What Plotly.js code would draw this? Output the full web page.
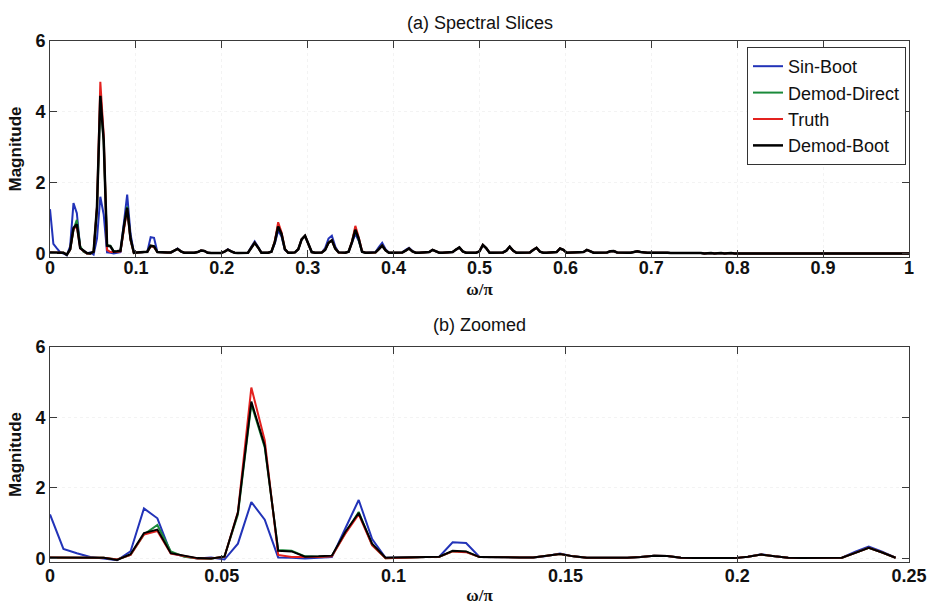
<!DOCTYPE html>
<html><head><meta charset="utf-8">
<script src="https://cdn.plot.ly/plotly-3.0.1.min.js"></script>
<style>html,body{margin:0;padding:0;background:#fff}</style>
</head><body><div id="chart" style="width:930px;height:605px"></div>
<script>
// Spectral magnitude on 257 frequency bins (omega/pi = bin/256)
const NBINS = 256;
const ZOOM_N = 64; // bins shown in panel (b)

const seriesNames = ['Sin-Boot', 'Demod-Direct', 'Truth', 'Demod-Boot'];

const sinBoot = [
 1.25,0.27,0.15,0.04,0.00,-0.05,0.20,1.42,1.14,0.15,
 0.06,0.00,0.03,-0.03,0.42,1.60,1.10,0.03,0.02,0.00,
 0.02,0.04,0.85,1.66,0.55,0.02,0.03,0.03,0.04,0.05,
 0.46,0.44,0.04,0.03,0.03,0.03,0.03,0.07,0.14,0.06,
 0.02,0.02,0.01,0.02,0.04,0.08,0.07,0.02,0.01,0.01,
 0.01,0.01,0.05,0.12,0.06,0.02,0.01,0.01,0.01,0.02,
 0.19,0.34,0.19,0.02,0.02,0.02,0.05,0.28,0.65,0.48,
 0.10,0.02,0.02,0.03,0.12,0.40,0.50,0.28,0.04,0.02,
 0.02,0.03,0.15,0.42,0.50,0.20,0.03,0.02,0.02,0.05,
 0.28,0.55,0.36,0.05,0.02,0.02,0.02,0.04,0.18,0.30,
 0.12,0.02,0.02,0.02,0.02,0.03,0.10,0.16,0.07,0.02,
 0.02,0.02,0.02,0.04,0.10,0.07,0.02,0.02,0.02,0.02,
 0.04,0.11,0.17,0.06,0.02,0.02,0.02,0.02,0.06,0.24,
 0.15,0.02,0.02,0.02,0.02,0.03,0.08,0.19,0.08,0.02,
 0.02,0.02,0.02,0.03,0.10,0.16,0.05,0.02,0.02,0.02,
 0.02,0.04,0.14,0.10,0.02,0.02,0.02,0.02,0.02,0.04,
 0.10,0.06,0.02,0.02,0.02,0.02,0.03,0.06,0.07,0.03,
 0.02,0.02,0.02,0.02,0.03,0.06,0.04,0.02,0.02,0.02,
 0.03,0.02,0.02,0.03,0.02,0.01,0.01,0.02,0.01,0.01,
 0.02,0.03,0.02,0.01,0.01,0.00,0.01,0.01,0.00,0.01,
 0.01,0.00,0.01,0.01,0.00,0.00,0.01,0.00,0.00,0.01,
 0.00,0.00,0.01,0.00,0.00,0.00,0.00,0.01,0.00,0.00,
 0.00,0.01,0.00,0.00,0.00,0.00,0.01,0.00,0.00,0.00,
 0.01,0.00,0.00,0.00,0.01,0.02,0.01,0.00,0.01,0.02,
 0.01,0.00,0.01,0.00,0.00,0.01,0.02,0.01,0.00,0.00,
 0.01,0.00,0.00,0.01,0.00,0.00,0.00
];

const demodDirect = [
 0.02,0.02,0.03,0.03,0.02,-0.03,0.10,0.68,0.95,0.20,
 0.05,0.00,-0.01,0.06,1.25,4.38,3.15,0.24,0.22,0.06,
 0.05,0.07,0.72,1.32,0.38,0.01,0.03,0.03,0.04,0.05,
 0.20,0.19,0.04,0.03,0.03,0.03,0.03,0.07,0.13,0.06,
 0.02,0.02,0.01,0.02,0.04,0.08,0.07,0.02,0.01,0.01,
 0.01,0.01,0.05,0.11,0.06,0.02,0.01,0.01,0.01,0.02,
 0.16,0.30,0.17,0.02,0.02,0.02,0.05,0.34,0.80,0.55,
 0.12,0.02,0.02,0.03,0.12,0.40,0.50,0.28,0.04,0.02,
 0.02,0.03,0.10,0.30,0.37,0.14,0.03,0.02,0.02,0.05,
 0.33,0.72,0.42,0.05,0.02,0.02,0.02,0.03,0.12,0.22,
 0.09,0.02,0.02,0.02,0.02,0.03,0.08,0.14,0.06,0.02,
 0.02,0.02,0.02,0.04,0.10,0.07,0.02,0.02,0.02,0.02,
 0.04,0.11,0.17,0.06,0.02,0.02,0.02,0.02,0.06,0.24,
 0.15,0.02,0.02,0.02,0.02,0.03,0.08,0.19,0.08,0.02,
 0.02,0.02,0.02,0.03,0.10,0.16,0.05,0.02,0.02,0.02,
 0.02,0.04,0.14,0.10,0.02,0.02,0.02,0.02,0.02,0.04,
 0.10,0.06,0.02,0.02,0.02,0.02,0.03,0.06,0.07,0.03,
 0.02,0.02,0.02,0.02,0.03,0.06,0.04,0.02,0.02,0.02,
 0.03,0.02,0.02,0.03,0.02,0.01,0.01,0.02,0.01,0.01,
 0.02,0.03,0.02,0.01,0.01,0.00,0.01,0.01,0.00,0.01,
 0.01,0.00,0.01,0.01,0.00,0.00,0.01,0.00,0.00,0.01,
 0.00,0.00,0.01,0.00,0.00,0.00,0.00,0.01,0.00,0.00,
 0.00,0.01,0.00,0.00,0.00,0.00,0.01,0.00,0.00,0.00,
 0.01,0.00,0.00,0.00,0.01,0.02,0.01,0.00,0.01,0.02,
 0.01,0.00,0.01,0.00,0.00,0.01,0.02,0.01,0.00,0.00,
 0.01,0.00,0.00,0.01,0.00,0.00,0.00
];

const truth = [
 0.03,0.03,0.04,0.03,0.02,-0.03,0.10,0.68,0.78,0.14,
 0.06,0.00,0.00,0.05,1.32,4.85,3.35,0.10,0.04,0.03,
 0.04,0.06,0.70,1.25,0.38,0.01,0.03,0.03,0.04,0.05,
 0.20,0.18,0.04,0.03,0.03,0.03,0.03,0.07,0.13,0.06,
 0.02,0.02,0.01,0.02,0.04,0.08,0.07,0.02,0.01,0.01,
 0.01,0.01,0.05,0.11,0.06,0.02,0.01,0.01,0.01,0.02,
 0.16,0.30,0.17,0.02,0.02,0.02,0.05,0.35,0.88,0.60,
 0.12,0.02,0.02,0.03,0.12,0.40,0.50,0.28,0.04,0.02,
 0.02,0.03,0.10,0.30,0.37,0.14,0.03,0.02,0.02,0.05,
 0.34,0.78,0.46,0.06,0.02,0.02,0.02,0.03,0.12,0.22,
 0.09,0.02,0.02,0.02,0.02,0.03,0.08,0.14,0.06,0.02,
 0.02,0.02,0.02,0.04,0.10,0.07,0.02,0.02,0.02,0.02,
 0.04,0.11,0.17,0.06,0.02,0.02,0.02,0.02,0.06,0.24,
 0.15,0.02,0.02,0.02,0.02,0.03,0.08,0.19,0.08,0.02,
 0.02,0.02,0.02,0.03,0.10,0.16,0.05,0.02,0.02,0.02,
 0.02,0.04,0.14,0.10,0.02,0.02,0.02,0.02,0.02,0.04,
 0.10,0.06,0.02,0.02,0.02,0.02,0.03,0.06,0.07,0.03,
 0.02,0.02,0.02,0.02,0.03,0.06,0.04,0.02,0.02,0.02,
 0.03,0.02,0.02,0.03,0.02,0.01,0.01,0.02,0.01,0.01,
 0.02,0.03,0.02,0.01,0.01,0.00,0.01,0.01,0.00,0.01,
 0.01,0.00,0.01,0.01,0.00,0.00,0.01,0.00,0.00,0.01,
 0.00,0.00,0.01,0.00,0.00,0.00,0.00,0.01,0.00,0.00,
 0.00,0.01,0.00,0.00,0.00,0.00,0.01,0.00,0.00,0.00,
 0.01,0.00,0.00,0.00,0.01,0.02,0.01,0.00,0.01,0.02,
 0.01,0.00,0.01,0.00,0.00,0.01,0.02,0.01,0.00,0.00,
 0.01,0.00,0.00,0.01,0.00,0.00,0.00
];

const demodBoot = [
 0.03,0.03,0.04,0.03,0.02,-0.04,0.12,0.72,0.82,0.15,
 0.07,0.01,0.00,0.05,1.30,4.45,3.20,0.22,0.20,0.05,
 0.06,0.08,0.75,1.29,0.42,0.02,0.03,0.03,0.04,0.05,
 0.22,0.20,0.04,0.03,0.03,0.03,0.03,0.07,0.13,0.06,
 0.02,0.02,0.01,0.02,0.04,0.08,0.07,0.02,0.01,0.01,
 0.01,0.01,0.05,0.11,0.06,0.02,0.01,0.01,0.01,0.02,
 0.16,0.30,0.17,0.02,0.02,0.02,0.05,0.32,0.76,0.55,
 0.12,0.02,0.02,0.03,0.12,0.40,0.50,0.28,0.04,0.02,
 0.02,0.03,0.10,0.30,0.37,0.14,0.03,0.02,0.02,0.05,
 0.32,0.67,0.42,0.05,0.02,0.02,0.02,0.03,0.12,0.22,
 0.09,0.02,0.02,0.02,0.02,0.03,0.08,0.14,0.06,0.02,
 0.02,0.02,0.02,0.04,0.10,0.07,0.02,0.02,0.02,0.02,
 0.04,0.11,0.17,0.06,0.02,0.02,0.02,0.02,0.06,0.24,
 0.15,0.02,0.02,0.02,0.02,0.03,0.08,0.19,0.08,0.02,
 0.02,0.02,0.02,0.03,0.10,0.16,0.05,0.02,0.02,0.02,
 0.02,0.04,0.14,0.10,0.02,0.02,0.02,0.02,0.02,0.04,
 0.10,0.06,0.02,0.02,0.02,0.02,0.03,0.06,0.07,0.03,
 0.02,0.02,0.02,0.02,0.03,0.06,0.04,0.02,0.02,0.02,
 0.03,0.02,0.02,0.03,0.02,0.01,0.01,0.02,0.01,0.01,
 0.02,0.03,0.02,0.01,0.01,0.00,0.01,0.01,0.00,0.01,
 0.01,0.00,0.01,0.01,0.00,0.00,0.01,0.00,0.00,0.01,
 0.00,0.00,0.01,0.00,0.00,0.00,0.00,0.01,0.00,0.00,
 0.00,0.01,0.00,0.00,0.00,0.00,0.01,0.00,0.00,0.00,
 0.01,0.00,0.00,0.00,0.01,0.02,0.01,0.00,0.01,0.02,
 0.01,0.00,0.01,0.00,0.00,0.01,0.02,0.01,0.00,0.00,
 0.01,0.00,0.00,0.01,0.00,0.00,0.00
];

const xTicksTop = [0,0.1,0.2,0.3,0.4,0.5,0.6,0.7,0.8,0.9,1];
const xTickTextTop = ['0','0.1','0.2','0.3','0.4','0.5','0.6','0.7','0.8','0.9','1'];
const xTicksZoom = [0,0.05,0.1,0.15,0.2,0.25];
const xTickTextZoom = ['0','0.05','0.1','0.15','0.2','0.25'];
const yTicks = [0,2,4,6];

const omega = sinBoot.map((_, i) => i / NBINS);
const allSeries = [sinBoot, demodDirect, truth, demodBoot];
const colors = ['#2233b8', '#1a8a3a', '#e3221f', '#000000'];
const topWidths = [2, 2, 2, 2.5];

const traces = [];
allSeries.forEach((s, k) => {
  traces.push({x: omega, y: s, type: 'scatter', mode: 'lines', name: seriesNames[k],
    line: {color: colors[k], width: topWidths[k]}, xaxis: 'x', yaxis: 'y'});
});
allSeries.forEach((s, k) => {
  traces.push({x: omega.slice(0, ZOOM_N), y: s.slice(0, ZOOM_N), type: 'scatter', mode: 'lines',
    name: seriesNames[k], showlegend: false,
    line: {color: colors[k], width: 2}, xaxis: 'x2', yaxis: 'y2'});
});

const tickFont = {family: 'Liberation Sans, Arial, sans-serif', size: 18, color: '#111', weight: 'bold'};
const axisCommon = {
  showline: true, mirror: 'ticks', linecolor: '#3a3a3a', linewidth: 1,
  ticks: 'inside', ticklen: 7, tickcolor: '#3a3a3a', tickwidth: 1,
  zeroline: false, showgrid: true, gridcolor: '#f3f3f3', griddash: 'dot',
  tickfont: tickFont, tickmode: 'array'
};
const xTitle = {text: 'ω/π', font: {family: 'Liberation Serif, Times New Roman, serif', size: 17, color: '#111', weight: 'bold'}, standoff: 6};
const yTitle = {text: 'Magnitude', font: {family: 'Liberation Sans, Arial, sans-serif', size: 17, color: '#111', weight: 'bold'}, standoff: 9};

const layout = {
  width: 930, height: 605,
  margin: {l: 50, r: 21, t: 41, b: 43},
  paper_bgcolor: '#fff', plot_bgcolor: '#fff',
  showlegend: true,
  legend: {x: 0.9965, xanchor: 'right', y: 0.9885, yanchor: 'top',
    bgcolor: '#fff', bordercolor: '#333', borderwidth: 1, itemwidth: 30, tracegroupgap: 0,
    font: {family: 'Liberation Sans, Arial, sans-serif', size: 18, color: '#111'}},
  xaxis: Object.assign({}, axisCommon, {domain: [0, 1], anchor: 'y', range: [0, 1],
    tickvals: xTicksTop, ticktext: xTickTextTop, title: xTitle, ticklabelstandoff: -6}),
  yaxis: Object.assign({}, axisCommon, {domain: [0.5854, 1], anchor: 'x', range: [-0.1, 6],
    tickvals: yTicks, ticktext: yTicks.map(String), title: yTitle}),
  xaxis2: Object.assign({}, axisCommon, {domain: [0, 1], anchor: 'y2', range: [0, 0.25],
    tickvals: xTicksZoom, ticktext: xTickTextZoom, title: xTitle, ticklabelstandoff: -3}),
  yaxis2: Object.assign({}, axisCommon, {domain: [0, 0.4127], anchor: 'x2', range: [-0.1, 6],
    tickvals: yTicks, ticktext: yTicks.map(String), title: yTitle}),
  annotations: [
    {text: '(a) Spectral Slices', xref: 'paper', yref: 'paper', x: 0.5, y: 1.0345,
     xanchor: 'center', yanchor: 'middle', showarrow: false,
     font: {family: 'Liberation Sans, Arial, sans-serif', size: 18, color: '#111'}},
    {text: '(b) Zoomed', xref: 'paper', yref: 'paper', x: 0.5, y: 0.4549,
     xanchor: 'center', yanchor: 'middle', showarrow: false,
     font: {family: 'Liberation Sans, Arial, sans-serif', size: 18, color: '#111'}}
  ]
};

Plotly.newPlot('chart', traces, layout, {displayModeBar: false, staticPlot: true});
</script>
</body></html>
